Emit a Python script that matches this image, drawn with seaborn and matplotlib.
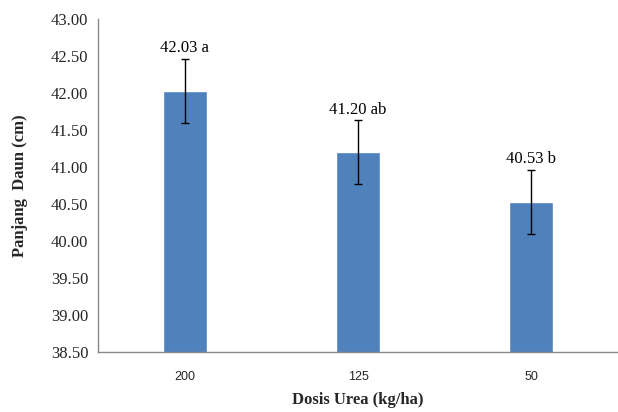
import matplotlib
matplotlib.use("Agg")
import matplotlib.pyplot as plt
import seaborn as sns
import pandas as pd
import numpy as np

categories = ["200", "125", "50"]
values = [42.03, 41.20, 40.53]
errors = [0.43, 0.43, 0.43]
labels = ["42.03 a", "41.20 ab", "40.53 b"]
yticks = [38.5, 39.0, 39.5, 40.0, 40.5, 41.0, 41.5, 42.0, 42.5, 43.0]

df = pd.DataFrame({"dosis": categories, "panjang": values})

sns.set_style("white")
fig = plt.figure(figsize=(6.18, 4.12), dpi=100)
ax = fig.add_axes([0.1586, 0.1456, 0.8414, 0.808])
sns.barplot(data=df, x="dosis", y="panjang", order=categories, color="#4F81BD",
            saturation=1, width=0.254, errorbar=None, ax=ax)
x = np.arange(len(categories))
ax.errorbar(x, values, yerr=errors, fmt="none", ecolor="black", elinewidth=1.0,
            capsize=3, capthick=1.0)
for xi, v, e, lab in zip(x, values, errors, labels):
    ax.text(xi, v + e + 0.04, lab, ha="center", va="bottom",
            family="Liberation Serif", fontsize=12, color="black")

ax.set_ylim(38.5, 43.0)
ax.set_xlim(-0.5, 2.5)
ax.set_yticks(yticks)
ax.set_yticklabels([f"{t:.2f}" for t in yticks], family="Liberation Serif", fontsize=12)
ax.set_xticks(x)
ax.set_xticklabels(categories, family="Liberation Sans", fontsize=9)
ax.tick_params(axis="y", direction="out", length=4, width=0.8, color="#888888", pad=3)
ax.tick_params(axis="x", length=0, pad=14)
for s in ["top", "right"]:
    ax.spines[s].set_visible(False)
for s in ["left", "bottom"]:
    ax.spines[s].set_color("#888888")
    ax.spines[s].set_linewidth(1.0)
ax.set_xlabel("Dosis Urea (kg/ha)", family="Liberation Serif", fontweight="bold",
              fontsize=12, labelpad=6)
ax.set_ylabel("Panjang  Daun (cm)", family="Liberation Serif", fontweight="bold",
              fontsize=12, labelpad=16)
fig.savefig("out.png", dpi=100)
